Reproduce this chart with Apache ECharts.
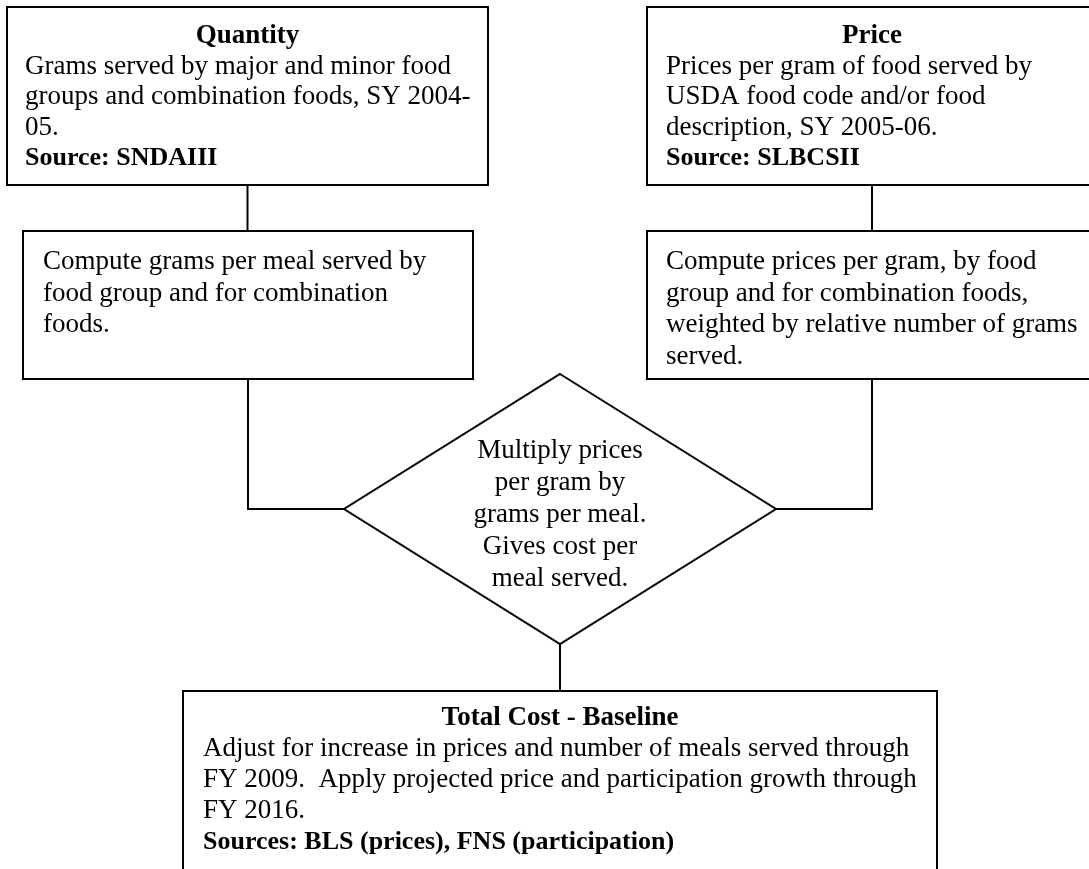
<!DOCTYPE html>
<html><head><meta charset="utf-8">
<script src="https://cdn.jsdelivr.net/npm/echarts@6/dist/echarts.min.js"></script>
<style>html,body{margin:0;padding:0;background:#fff}#c{width:1089px;height:869px}</style>
</head><body><div id="c"></div>
<script>
// ---- content (data) ----
const nodeNames = ['Quantity', 'Price', 'GramsPerMeal', 'PricePerGram', 'Multiply', 'TotalCost'];
const nodeTitles = ['Quantity', 'Price', '', '', '', 'Total Cost - Baseline'];
const nodeBody = [
  ['Grams served by major and minor food', 'groups and combination foods, SY 2004-', '05.'],
  ['Prices per gram of food served by', 'USDA food code and/or food', 'description, SY 2005-06.'],
  ['Compute grams per meal served by', 'food group and for combination', 'foods.'],
  ['Compute prices per gram, by food', 'group and for combination foods,', 'weighted by relative number of grams', 'served.'],
  ['Multiply prices', 'per gram by', 'grams per meal.', 'Gives cost per', 'meal served.'],
  ['Adjust for increase in prices and number of meals served through', 'FY 2009.  Apply projected price and participation growth through', 'FY 2016.']
];
const nodeSources = ['Source: SNDAIII', 'Source: SLBCSII', '', '', '', 'Sources: BLS (prices), FNS (participation)'];
const links = [[0, 2], [1, 3], [2, 4], [3, 4], [4, 5]];

// ---- layout (positions in the hidden axis space) ----
const layout = [
  { shape: 'rect', x0: 7, y0: 7, x1: 488, y1: 185, tx: 25, ty: 36, lh: 30.5, align: 'left' },
  { shape: 'rect', x0: 647, y0: 7, x1: 1097, y1: 185, tx: 666, ty: 36, lh: 30.5, align: 'left' },
  { shape: 'rect', x0: 23, y0: 231, x1: 473, y1: 379, tx: 43, ty: 262, lh: 31.5, align: 'left' },
  { shape: 'rect', x0: 647, y0: 231, x1: 1097, y1: 379, tx: 666, ty: 262, lh: 31.5, align: 'left' },
  { shape: 'diamond', x0: 344, y0: 374, x1: 776, y1: 644, tx: 560, ty: 451, lh: 32, align: 'center' },
  { shape: 'rect', x0: 183, y0: 691, x1: 937, y1: 900, tx: 203, ty: 718, lh: 31, align: 'left' }
];
const FONT = '"Liberation Serif", "Times New Roman", serif';
const FS = 27;
const FS_SRC = 26;

const chart = echarts.init(document.getElementById('c'), null, { renderer: 'canvas' });

function nodeItem(params, api) {
  const i = api.value(0);
  const L = layout[i];
  const p0 = api.coord([L.x0, L.y0]);
  const p1 = api.coord([L.x1, L.y1]);
  const cx = (p0[0] + p1[0]) / 2, cy = (p0[1] + p1[1]) / 2;
  const children = [];
  if (L.shape === 'rect') {
    children.push({ type: 'rect', shape: { x: p0[0], y: p0[1], width: p1[0] - p0[0], height: p1[1] - p0[1] },
      style: { fill: '#fff', stroke: '#000', lineWidth: 2 } });
  } else {
    children.push({ type: 'polygon', shape: { points: [[cx, p0[1]], [p1[0], cy], [cx, p1[1]], [p0[0], cy]] },
      style: { fill: '#fff', stroke: '#000', lineWidth: 2 } });
  }
  const tp = api.coord([L.tx, L.ty]);
  let y = tp[1];
  const lines = [];
  if (nodeTitles[i]) lines.push({ t: nodeTitles[i], bold: true, center: true, fs: FS });
  nodeBody[i].forEach(t => lines.push({ t: t, bold: false, center: L.align === 'center', fs: FS }));
  if (nodeSources[i]) lines.push({ t: nodeSources[i], bold: true, center: false, fs: FS_SRC });
  lines.forEach(ln => {
    children.push({ type: 'text', style: {
      text: ln.t, x: ln.center ? cx : tp[0], y: y,
      font: (ln.bold ? 'bold ' : '') + ln.fs + 'px ' + FONT,
      fill: '#000', align: ln.center ? 'center' : 'left', verticalAlign: 'middle' } });
    y += L.lh;
  });
  return { type: 'group', children: children };
}

function linkItem(params, api) {
  const s = layout[links[api.value(0)][0]];
  const t = layout[links[api.value(0)][1]];
  const sx = (s.x0 + s.x1) / 2, tx = (t.x0 + t.x1) / 2, ty = (t.y0 + t.y1) / 2;
  let pts;
  if (Math.abs(sx - tx) < 2) {
    pts = [[sx, s.y1], [sx, t.y0]];
  } else {
    const ex = sx < tx ? t.x0 : t.x1;
    pts = [[sx, s.y1], [sx, ty], [ex, ty]];
  }
  return { type: 'polyline', shape: { points: pts.map(p => api.coord(p)) },
    style: { stroke: '#000', lineWidth: 2, fill: null } };
}

chart.setOption({
  backgroundColor: '#fff',
  animation: false,
  grid: { left: 0, right: 0, top: 0, bottom: 0 },
  xAxis: { type: 'value', min: 0, max: 1089, show: false },
  yAxis: { type: 'value', min: 0, max: 869, inverse: true, show: false },
  series: [
    { type: 'custom', renderItem: linkItem, data: links.map((l, i) => [i]), clip: true, z: 1 },
    { type: 'custom', renderItem: nodeItem, data: nodeNames.map((n, i) => [i]), clip: true, z: 2 }
  ]
});
</script></body></html>
